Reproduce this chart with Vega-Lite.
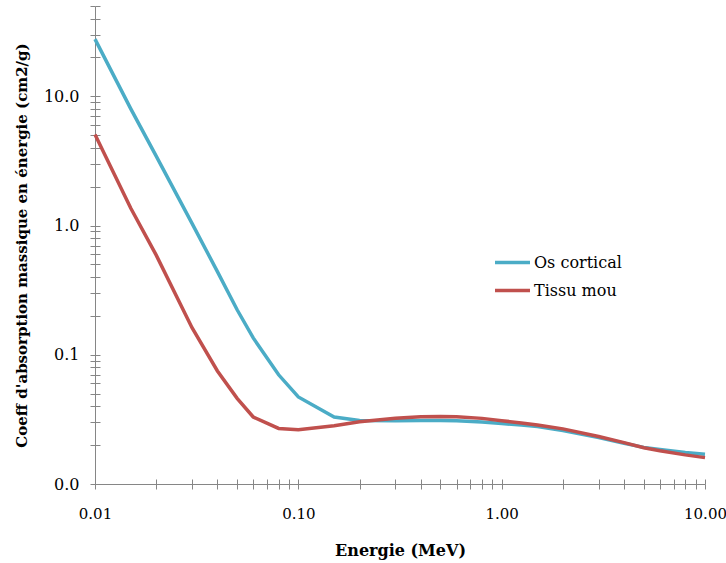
{
  "$schema": "https://vega.github.io/schema/vega-lite/v6.json",
  "width": 610,
  "height": 478,
  "autosize": {"type": "none"},
  "padding": {"left": 95, "top": 6, "right": 21, "bottom": 79},
  "background": "white",
  "config": {
    "view": {"stroke": null},
    "font": "DejaVu Serif",
    "axis": {
      "labelFont": "DejaVu Serif",
      "titleFont": "DejaVu Serif",
      "labelFontSize": 16,
      "titleFontSize": 16,
      "labelColor": "#000000",
      "titleColor": "#000000",
      "titleFontWeight": "bold",
      "domainColor": "#868686",
      "tickColor": "#868686",
      "tickSize": 5,
      "grid": true,
      "gridColor": "#868686",
      "gridOpacity": 1,
      "labelOverlap": false,
      "labelFlush": false
    },
    "legend": {
      "labelFont": "DejaVu Serif",
      "labelFontSize": 16,
      "labelColor": "#000000"
    }
  },
  "data": {
    "values": [
      {"E": 0.01, "v": 27.7, "s": "Os cortical"},
      {"E": 0.015, "v": 8.0, "s": "Os cortical"},
      {"E": 0.02, "v": 3.45, "s": "Os cortical"},
      {"E": 0.03, "v": 1.04, "s": "Os cortical"},
      {"E": 0.04, "v": 0.44, "s": "Os cortical"},
      {"E": 0.05, "v": 0.223, "s": "Os cortical"},
      {"E": 0.06, "v": 0.135, "s": "Os cortical"},
      {"E": 0.08, "v": 0.070, "s": "Os cortical"},
      {"E": 0.1, "v": 0.0472, "s": "Os cortical"},
      {"E": 0.15, "v": 0.0330, "s": "Os cortical"},
      {"E": 0.2, "v": 0.0310, "s": "Os cortical"},
      {"E": 0.3, "v": 0.0309, "s": "Os cortical"},
      {"E": 0.4, "v": 0.0310, "s": "Os cortical"},
      {"E": 0.5, "v": 0.0310, "s": "Os cortical"},
      {"E": 0.6, "v": 0.0308, "s": "Os cortical"},
      {"E": 0.8, "v": 0.0302, "s": "Os cortical"},
      {"E": 1.0, "v": 0.0294, "s": "Os cortical"},
      {"E": 1.25, "v": 0.0286, "s": "Os cortical"},
      {"E": 1.5, "v": 0.0278, "s": "Os cortical"},
      {"E": 2.0, "v": 0.0259, "s": "Os cortical"},
      {"E": 3.0, "v": 0.0229, "s": "Os cortical"},
      {"E": 4.0, "v": 0.0207, "s": "Os cortical"},
      {"E": 5.0, "v": 0.0192, "s": "Os cortical"},
      {"E": 6.0, "v": 0.0185, "s": "Os cortical"},
      {"E": 8.0, "v": 0.0175, "s": "Os cortical"},
      {"E": 10.0, "v": 0.0170, "s": "Os cortical"},
      {"E": 0.01, "v": 5.07, "s": "Tissu mou"},
      {"E": 0.015, "v": 1.36, "s": "Tissu mou"},
      {"E": 0.02, "v": 0.59, "s": "Tissu mou"},
      {"E": 0.03, "v": 0.162, "s": "Tissu mou"},
      {"E": 0.04, "v": 0.075, "s": "Tissu mou"},
      {"E": 0.05, "v": 0.046, "s": "Tissu mou"},
      {"E": 0.06, "v": 0.033, "s": "Tissu mou"},
      {"E": 0.08, "v": 0.0269, "s": "Tissu mou"},
      {"E": 0.1, "v": 0.0263, "s": "Tissu mou"},
      {"E": 0.15, "v": 0.0282, "s": "Tissu mou"},
      {"E": 0.2, "v": 0.0303, "s": "Tissu mou"},
      {"E": 0.3, "v": 0.0323, "s": "Tissu mou"},
      {"E": 0.4, "v": 0.0331, "s": "Tissu mou"},
      {"E": 0.5, "v": 0.0333, "s": "Tissu mou"},
      {"E": 0.6, "v": 0.0332, "s": "Tissu mou"},
      {"E": 0.8, "v": 0.0322, "s": "Tissu mou"},
      {"E": 1.0, "v": 0.0309, "s": "Tissu mou"},
      {"E": 1.25, "v": 0.0297, "s": "Tissu mou"},
      {"E": 1.5, "v": 0.0286, "s": "Tissu mou"},
      {"E": 2.0, "v": 0.0267, "s": "Tissu mou"},
      {"E": 3.0, "v": 0.0233, "s": "Tissu mou"},
      {"E": 4.0, "v": 0.0209, "s": "Tissu mou"},
      {"E": 5.0, "v": 0.0191, "s": "Tissu mou"},
      {"E": 6.0, "v": 0.0181, "s": "Tissu mou"},
      {"E": 8.0, "v": 0.0168, "s": "Tissu mou"},
      {"E": 10.0, "v": 0.0160, "s": "Tissu mou"}
    ]
  },
  "mark": {"type": "line", "strokeWidth": 3.5, "interpolate": "linear"},
  "encoding": {
    "x": {
      "field": "E",
      "type": "quantitative",
      "scale": {"type": "log", "domain": [0.01, 10], "nice": false},
      "axis": {
        "title": "Energie (MeV)",
        "labelFontSize": 15,
        "values": [0.01, 0.02, 0.03, 0.04, 0.05, 0.06, 0.07, 0.08, 0.09, 0.1, 0.2, 0.3, 0.4, 0.5, 0.6, 0.7, 0.8, 0.9, 1, 2, 3, 4, 5, 6, 7, 8, 9, 10],
        "labelExpr": "(datum.value == 0.01 || datum.value == 0.1 || datum.value == 1 || datum.value == 10) ? format(datum.value, '.2f') : ''",
        "labelPadding": 17,
        "titlePadding": 21,
        "gridDash": [0, 473, 5, 3000]
      }
    },
    "y": {
      "field": "v",
      "type": "quantitative",
      "scale": {"type": "log", "domain": [0.01, 50], "nice": false},
      "axis": {
        "title": "Coeff d'absorption massique en énergie (cm2/g)",
        "titleFontSize": 15,
        "values": [0.01, 0.02, 0.03, 0.04, 0.05, 0.06, 0.07, 0.08, 0.09, 0.1, 0.2, 0.3, 0.4, 0.5, 0.6, 0.7, 0.8, 0.9, 1, 2, 3, 4, 5, 6, 7, 8, 9, 10, 20, 30, 40, 50],
        "labelExpr": "(datum.value == 0.01 || datum.value == 0.1 || datum.value == 1 || datum.value == 10) ? format(datum.value, '.1f') : ''",
        "labelPadding": 11,
        "titlePadding": 14,
        "gridDash": [5, 3000]
      }
    },
    "color": {
      "field": "s",
      "type": "nominal",
      "scale": {"domain": ["Os cortical", "Tissu mou"], "range": ["#4BACC6", "#C0504D"]},
      "legend": {
        "title": null,
        "orient": "none",
        "legendX": 398,
        "legendY": 237,
        "symbolType": "stroke",
        "symbolSize": 1225,
        "symbolStrokeWidth": 3.5,
        "labelOffset": 2,
        "rowPadding": -5
      }
    }
  }
}
